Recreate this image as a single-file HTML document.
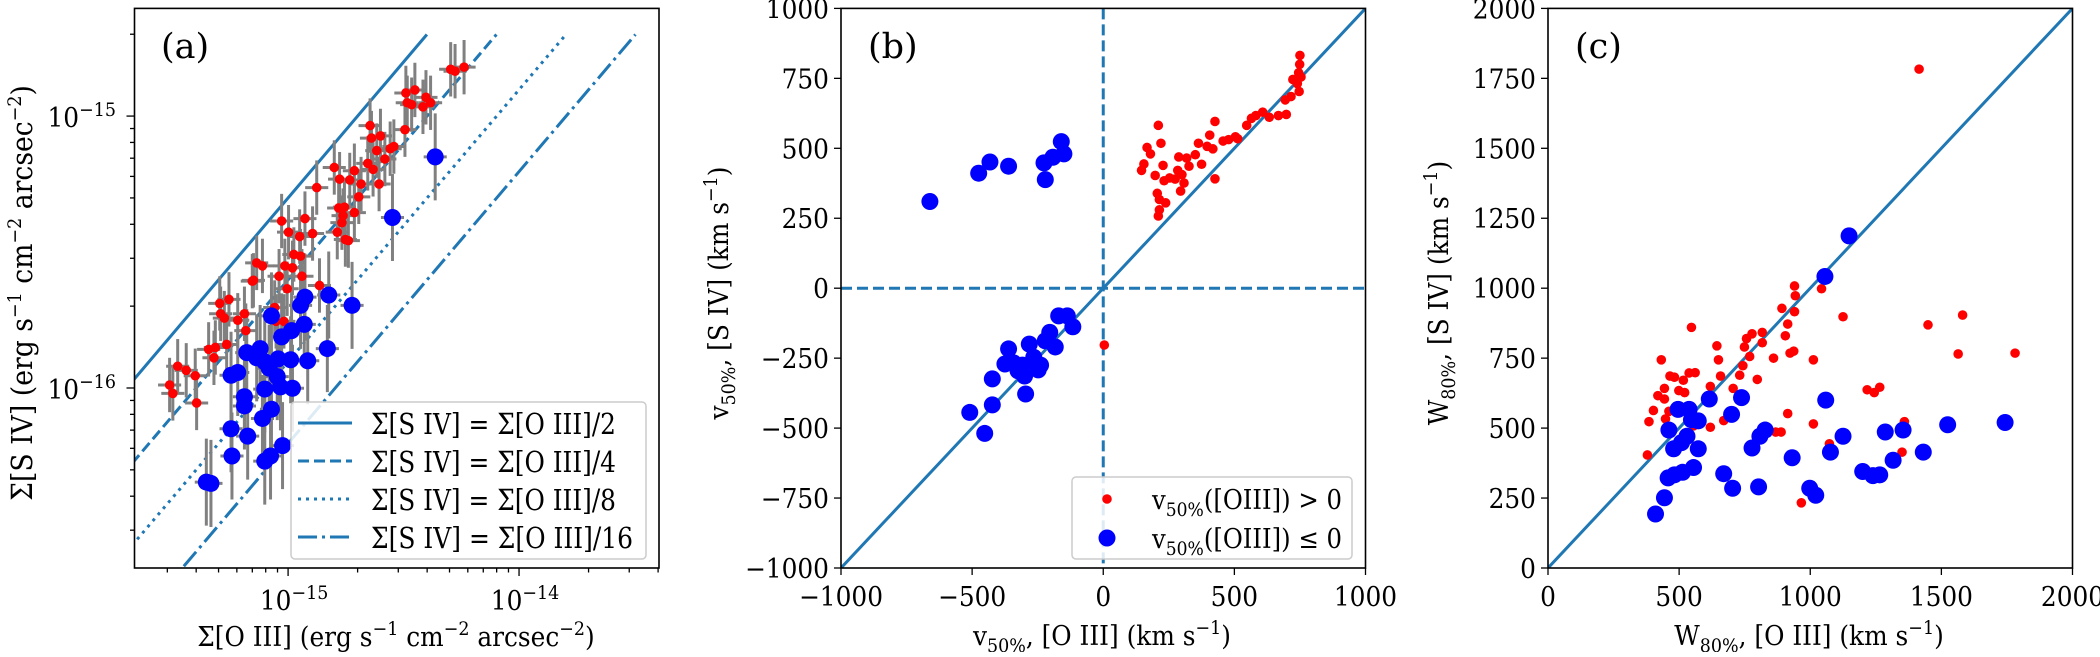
<!DOCTYPE html>
<html><head><meta charset="utf-8"><style>
html,body{margin:0;padding:0;background:#fff;}
svg text{font-family:"DejaVu Serif","Liberation Serif",serif;fill:#000;}
svg text.sq{transform-box:fill-box;transform:scaleX(0.92);transform-origin:center center;}
svg text.sq[text-anchor="end"]{transform-origin:right center;}
svg text.sq.left{transform-origin:left center;}
</style></head><body>
<svg id="fig" width="2100" height="652" viewBox="0 0 2100 652" xmlns="http://www.w3.org/2000/svg">
<defs>
<clipPath id="clipA"><rect x="134.5" y="8.4" width="524.5" height="559.6"/></clipPath>
<clipPath id="clipB"><rect x="841" y="8.4" width="524.5" height="559.6"/></clipPath>
<clipPath id="clipC"><rect x="1548" y="8.4" width="524.5" height="559.6"/></clipPath>
</defs>
</svg>
<script>
// ---- Panel (a) data: log10(Sigma / 1e-15 erg s^-1 cm^-2 arcsec^-2)
const aRedLogX=[-0.513,-0.499,-0.478,-0.441,-0.402,-0.396,-0.344,-0.315,-0.321,-0.296,-0.292,-0.276,-0.266,-0.256,-0.218,-0.189,-0.183,-0.150,-0.136,-0.111,-0.155,-0.058,-0.052,-0.018,-0.039,-0.028,-0.014,-0.004,0.002,0.019,0.025,0.050,0.054,0.060,0.073,0.106,0.124,0.136,0.200,0.213,0.219,0.223,0.233,0.238,0.244,0.248,0.261,0.267,0.287,0.287,0.306,0.316,0.345,0.355,0.361,0.368,0.384,0.394,0.400,0.419,0.442,0.458,0.506,0.510,0.516,0.535,0.549,0.584,0.597,0.617,0.704,0.723,0.762];
const aRedLogY=[-0.989,-1.020,-0.920,-0.935,-0.955,-1.055,-0.858,-0.851,-0.889,-0.689,-0.727,-0.743,-0.840,-0.674,-0.751,-0.727,-0.789,-0.604,-0.540,-0.551,-0.607,-0.704,-0.755,-0.755,-0.589,-0.386,-0.551,-0.635,-0.427,-0.558,-0.509,-0.443,-0.515,-0.589,-0.377,-0.432,-0.263,-0.623,-0.189,-0.427,-0.338,-0.232,-0.392,-0.366,-0.335,-0.454,-0.458,-0.235,-0.201,-0.355,-0.297,-0.250,-0.174,-0.035,-0.081,-0.196,-0.127,-0.250,-0.073,-0.158,-0.120,-0.112,-0.050,0.085,0.049,0.042,0.096,0.034,0.069,0.049,0.172,0.165,0.180];
const aBlueLogX=[0.637,0.452,0.176,0.277,-0.072,0.073,0.054,0.070,0.015,-0.028,0.170,0.085,-0.179,-0.121,-0.136,-0.101,-0.043,0.011,-0.082,-0.247,-0.218,-0.047,-0.101,-0.033,0.019,-0.189,-0.189,-0.072,-0.111,-0.247,-0.175,-0.024,-0.243,-0.076,-0.101,-0.354,-0.334];
const aBlueLogY=[-0.150,-0.373,-0.658,-0.696,-0.735,-0.666,-0.696,-0.766,-0.789,-0.812,-0.855,-0.900,-0.870,-0.855,-0.889,-0.904,-0.893,-0.896,-0.927,-0.953,-0.943,-0.958,-1.004,-0.996,-1.001,-1.032,-1.066,-1.078,-1.112,-1.150,-1.177,-1.212,-1.250,-1.250,-1.269,-1.346,-1.351];
const aRatios=[2,4,8,16];
const aLegendLabels=["Σ[S IV] = Σ[O III]/2","Σ[S IV] = Σ[O III]/4","Σ[S IV] = Σ[O III]/8","Σ[S IV] = Σ[O III]/16"];
// ---- Panel (b) data (km/s)
const bRedX=[146,155,167,180,198,210,220,228,206,214,238,210,214,232,253,274,288,300,308,295,284,318,327,351,363,375,396,406,418,426,426,457,478,504,513,547,565,582,608,633,668,698,694,716,723,740,745,749,750,747,754,4];
const bRedY=[421,444,503,480,403,582,518,439,339,317,305,258,280,384,394,390,469,406,376,347,421,465,436,477,518,443,507,547,498,391,596,526,531,541,534,582,607,617,629,611,617,621,673,685,746,731,770,800,832,703,755,-203];
const bBlueX=[-661,-475,-432,-361,-226,-221,-192,-160,-150,-170,-137,-116,-204,-183,-239,-282,-265,-308,-342,-361,-375,-300,-248,-296,-423,-423,-509,-452,-221,-325];
const bBlueY=[310,411,451,436,448,388,468,524,480,-99,-99,-138,-158,-210,-275,-200,-247,-275,-267,-217,-271,-314,-292,-378,-324,-417,-444,-519,-188,-295];
const bTicks=[-1000,-500,0,500,1000];
const bYTicks=[-1000,-750,-500,-250,0,250,500,750,1000];
// ---- Panel (c) data (km/s)
const cRedX=[379,385,402,419,432,444,444,448,465,461,482,499,516,521,538,547,561,555,619,619,644,650,658,670,706,731,743,749,757,769,778,798,817,817,860,868,889,892,905,914,923,914,937,940,943,940,966,1012,1012,1043,1073,1125,1217,1244,1265,1359,1350,1415,1449,1564,1581,1781];
const cRedY=[404,523,563,616,744,642,604,533,686,560,682,634,671,627,697,860,698,508,649,503,794,744,686,527,642,689,723,790,820,756,837,674,805,842,750,486,486,928,830,872,768,552,775,916,973,1008,233,744,515,998,444,898,637,627,646,523,414,1783,869,765,904,768];
const cBlueX=[410,444,458,482,513,555,461,479,509,530,496,538,547,573,573,615,670,700,704,738,778,803,808,828,931,998,1021,1059,1056,1077,1125,1148,1200,1239,1265,1286,1316,1354,1431,1524,1743];
const cBlueY=[193,251,322,333,342,359,493,426,448,471,567,567,530,526,426,604,337,549,285,609,429,290,471,493,394,285,260,600,1042,414,471,1187,345,330,333,486,385,493,414,512,520];
const cTicks=[0,500,1000,1500,2000];
const cYTicks=[0,250,500,750,1000,1250,1500,1750,2000];

const NS="http://www.w3.org/2000/svg";
const svg=document.getElementById('fig');
function mk(tag,attrs,parent){const e=document.createElementNS(NS,tag);for(const k in attrs)e.setAttribute(k,attrs[k]);(parent||svg).appendChild(e);return e;}
const BLUE="#1f77b4";
const TOP=8.4,BOT=568;
const FS=27, SUB=19;

const A={x0:134.5,x1:659,lx0:-15.665,lx1:-13.394,ly0:-16.662,ly1:-14.604};
function axL(v){return A.x0+(v-A.lx0)/(A.lx1-A.lx0)*(A.x1-A.x0);}
function ayL(v){return BOT-(v-A.ly0)/(A.ly1-A.ly0)*(BOT-TOP);}
function linScale(d0,d1,r0,r1){return v=>r0+(v-d0)/(d1-d0)*(r1-r0);}
const bx=linScale(-1000,1000,841,1365.5), by=linScale(-1000,1000,BOT,TOP);
const cx=linScale(0,2000,1548,2072.5), cy=linScale(0,2000,BOT,TOP);

function frame(x0,x1,name){
  const r=mk('rect',{x:x0,y:TOP,width:x1-x0,height:BOT-TOP,fill:'none',stroke:'#000','stroke-width':1.6});
  
  
}
function text(x,y,s,opt){
  const t=mk('text',Object.assign({x:x,y:y,'font-size':FS,'class':'sq'},opt||{}));
  t.textContent=s;return t;
}
function supText(x,y,base,sup,anchor){
  const t=mk('text',{x:x,y:y,'font-size':FS,'text-anchor':anchor||'middle','class':'sq'});
  const a=document.createElementNS(NS,'tspan');a.textContent=base;t.appendChild(a);
  const b=document.createElementNS(NS,'tspan');b.setAttribute('dy',-11);b.setAttribute('font-size',SUB);b.textContent=sup;t.appendChild(b);
  return t;
}
const SUP='<tspan dy="-11" font-size="'+SUB+'">';
const SUBT='<tspan dy="7" font-size="'+SUB+'">';

// ======== Panel A ========
const gA=mk('g',{'clip-path':'url(#clipA)'});


const dashes=["",'11,5','3,5','19,5,3,5'];
aRatios.forEach((k,i)=>{
  const lx0=-15.9, lx1=-14.7+Math.log10(k);
  const l=mk('line',{x1:axL(lx0),y1:ayL(lx0-Math.log10(k)),x2:axL(lx1),y2:ayL(lx1-Math.log10(k)),stroke:BLUE,'stroke-width':3,'stroke-dasharray':dashes[i]},gA);
  
  
});
function errbars(lx,ly,ex,ey,g){
  lx.forEach((v,i)=>{
    const X=axL(v-15),Y=ayL(ly[i]-15);
    const e=mk('line',{x1:X,y1:ayL(ly[i]-15-ey),x2:X,y2:ayL(ly[i]-15+ey),stroke:'#808080','stroke-width':3},g);
    
    
    const h=mk('line',{x1:axL(v-15-ex),y1:Y,x2:axL(v-15+ex),y2:Y,stroke:'#808080','stroke-width':3},g);
    
    
  });
}
errbars(aRedLogX,aRedLogY,0.05,0.1,gA);
errbars(aBlueLogX,aBlueLogY,0.05,0.16,gA);
aRedLogX.forEach((v,i)=>{
  const c=mk('circle',{cx:axL(v-15),cy:ayL(aRedLogY[i]-15),r:4.8,fill:'#ff0000'},gA);
  
  
});
aBlueLogX.forEach((v,i)=>{
  const c=mk('circle',{cx:axL(v-15),cy:ayL(aBlueLogY[i]-15),r:8.5,fill:'#0000ff'},gA);
  
  
});
frame(134.5,659,'panel-a-frame');
for(let d=-16;d<=-14;d++){for(let m=1;m<10;m++){
  const lv=d+Math.log10(m);
  if(lv>=A.lx0&&lv<=A.lx1){const X=axL(lv);const L=m===1?8:4.5;
    const t=mk('line',{x1:X,y1:BOT,x2:X,y2:BOT+L,stroke:'#000','stroke-width':1.3});
    
    
    if(m===1){const lb=supText(X+6,BOT+42,'10','−'+(-d));}}
}}
for(let d=-17;d<=-15;d++){for(let m=1;m<10;m++){
  const lv=d+Math.log10(m);
  if(lv>=A.ly0&&lv<=A.ly1){const Y=ayL(lv);const L=m===1?8:4.5;
    const t=mk('line',{x1:134.5,y1:Y,x2:134.5-L,y2:Y,stroke:'#000','stroke-width':1.3});
    
    
    if(m===1){const lb=supText(116,Y+11,'10','−'+(-d),'end');}}
}}
const lgA=mk('g',{});


mk('rect',{x:291,y:402,width:355,height:157,rx:4,fill:'#fff','fill-opacity':0.85,stroke:'#ccc','stroke-width':1.5},lgA);
aLegendLabels.forEach((s,i)=>{
  const Y=423+i*38;
  const l=mk('line',{x1:298,y1:Y,x2:352,y2:Y,stroke:BLUE,'stroke-width':3,'stroke-dasharray':dashes[i]},lgA);
  
  
  const t=mk('text',{x:371,y:Y+11,'font-size':29,textLength:(i===3?262:245),lengthAdjust:'spacingAndGlyphs'},lgA);t.textContent=s;
  
  
});
let pl=mk('text',{x:161,y:58,'font-size':35});pl.textContent='(a)';
let xt=mk('text',{x:396,y:646,'font-size':FS,'text-anchor':'middle','class':'sq'});
xt.innerHTML='Σ[O III] (erg s'+SUP+'−1</tspan><tspan dy="11"> cm</tspan>'+SUP+'−2</tspan><tspan dy="11"> arcsec</tspan>'+SUP+'−2</tspan><tspan dy="11">)</tspan>';

let yt=mk('text',{x:0,y:0,'font-size':29,'text-anchor':'middle',transform:'translate(32,293) rotate(-90) scale(0.92,1)'});
yt.innerHTML='Σ[S IV] (erg s'+SUP+'−1</tspan><tspan dy="11"> cm</tspan>'+SUP+'−2</tspan><tspan dy="11"> arcsec</tspan>'+SUP+'−2</tspan><tspan dy="11">)</tspan>';


function linPanel(gid,clip){
  const g=mk('g',{'clip-path':clip});
  
  
  return g;
}
function ticksLin(xs,ys,xT,yT,x0){
  xT.forEach(v=>{const X=xs(v);
    const t=mk('line',{x1:X,y1:BOT,x2:X,y2:BOT+7,stroke:'#000','stroke-width':1.3});
    
    const lb=text(X,BOT+38,String(v).replace('-','−'),{'text-anchor':'middle'});
    });
  yT.forEach(v=>{const Y=ys(v);
    const t=mk('line',{x1:x0,y1:Y,x2:x0-7,y2:Y,stroke:'#000','stroke-width':1.3});
    
    const lb=text(x0-12,Y+10,String(v).replace('-','−'),{'text-anchor':'end'});
    });
}
// Panel B
const gB=linPanel('panel-b-plot','url(#clipB)');
let l1=mk('line',{x1:bx(0),y1:TOP,x2:bx(0),y2:BOT,stroke:BLUE,'stroke-width':3,'stroke-dasharray':'11,5'},gB);

let l2=mk('line',{x1:841,y1:by(0),x2:1365.5,y2:by(0),stroke:BLUE,'stroke-width':3,'stroke-dasharray':'11,5'},gB);

let l3=mk('line',{x1:bx(-1000),y1:by(-1000),x2:bx(1000),y2:by(1000),stroke:BLUE,'stroke-width':3},gB);

bRedX.forEach((v,i)=>{const c=mk('circle',{cx:bx(v),cy:by(bRedY[i]),r:4.8,fill:'#ff0000'},gB);
  });
bBlueX.forEach((v,i)=>{const c=mk('circle',{cx:bx(v),cy:by(bBlueY[i]),r:8.5,fill:'#0000ff'},gB);
  });
frame(841,1365.5,'panel-b-frame');
ticksLin(bx,by,bTicks,bYTicks,841);
pl=mk('text',{x:868,y:58,'font-size':35});pl.textContent='(b)';
const lgB=mk('g',{});


mk('rect',{x:1072,y:477,width:280,height:82,rx:4,fill:'#fff','fill-opacity':0.85,stroke:'#ccc','stroke-width':1.5},lgB);
let m1=mk('circle',{cx:1107,cy:499,r:4.8,fill:'#ff0000'},lgB);
let m2=mk('circle',{cx:1107,cy:538,r:8.5,fill:'#0000ff'},lgB);
let t1=mk('text',{x:1152,y:509,'font-size':FS,textLength:190,lengthAdjust:'spacingAndGlyphs'},lgB);t1.innerHTML='v'+SUBT+'50%</tspan><tspan dy="-7">([OIII]) &gt; 0</tspan>';

let t2=mk('text',{x:1152,y:548,'font-size':FS,textLength:190,lengthAdjust:'spacingAndGlyphs'},lgB);t2.innerHTML='v'+SUBT+'50%</tspan><tspan dy="-7">([OIII]) ≤ 0</tspan>';

xt=mk('text',{x:1102,y:645,'font-size':FS,'text-anchor':'middle','class':'sq'});
xt.innerHTML='v'+SUBT+'50%</tspan><tspan dy="-7">, [O III] (km s</tspan>'+SUP+'−1</tspan><tspan dy="11">)</tspan>';

yt=mk('text',{x:0,y:0,'font-size':FS,'text-anchor':'middle',transform:'translate(728,293) rotate(-90) scale(0.92,1)'});
yt.innerHTML='v'+SUBT+'50%</tspan><tspan dy="-7">, [S IV] (km s</tspan>'+SUP+'−1</tspan><tspan dy="11">)</tspan>';


// Panel C
const gC=linPanel('panel-c-plot','url(#clipC)');
let l4=mk('line',{x1:cx(0),y1:cy(0),x2:cx(2000),y2:cy(2000),stroke:BLUE,'stroke-width':3},gC);

cRedX.forEach((v,i)=>{const c=mk('circle',{cx:cx(v),cy:cy(cRedY[i]),r:4.8,fill:'#ff0000'},gC);
  });
cBlueX.forEach((v,i)=>{const c=mk('circle',{cx:cx(v),cy:cy(cBlueY[i]),r:8.5,fill:'#0000ff'},gC);
  });
frame(1548,2072.5,'panel-c-frame');
ticksLin(cx,cy,cTicks,cYTicks,1548);
pl=mk('text',{x:1575,y:58,'font-size':35});pl.textContent='(c)';
xt=mk('text',{x:1809,y:645,'font-size':FS,'text-anchor':'middle','class':'sq'});
xt.innerHTML='W'+SUBT+'80%</tspan><tspan dy="-7">, [O III] (km s</tspan>'+SUP+'−1</tspan><tspan dy="11">)</tspan>';

yt=mk('text',{x:0,y:0,'font-size':FS,'text-anchor':'middle',transform:'translate(1448,293) rotate(-90) scale(0.92,1)'});
yt.innerHTML='W'+SUBT+'80%</tspan><tspan dy="-7">, [S IV] (km s</tspan>'+SUP+'−1</tspan><tspan dy="11">)</tspan>';

</script>
</body></html>
